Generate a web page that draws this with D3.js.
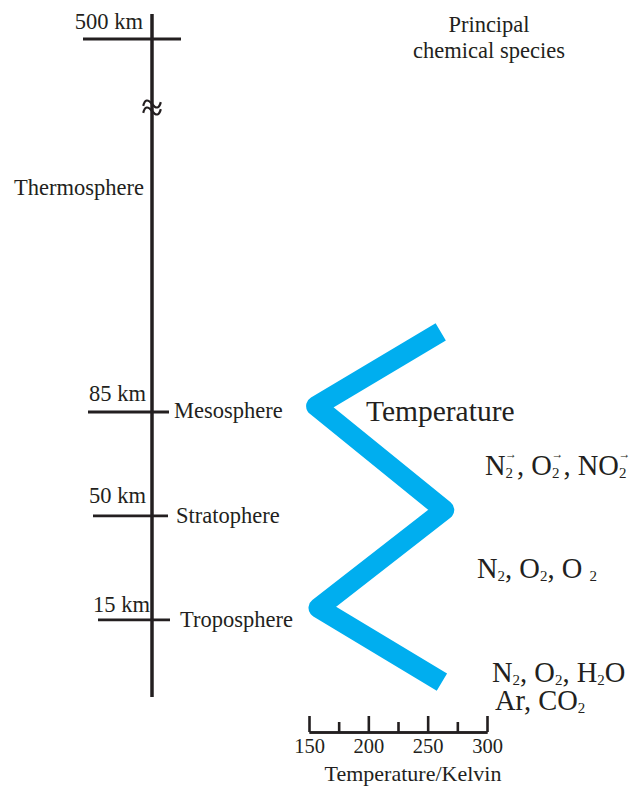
<!DOCTYPE html>
<html>
<head>
<meta charset="utf-8">
<script src="https://cdn.jsdelivr.net/npm/d3@7"></script>
<style>
  body { margin: 0; background: #fff; }
  text { font-family: "Liberation Serif", "Times New Roman", serif; fill: #231f20; }
</style>
</head>
<body>
<div id="chart"></div>
<script>
// altitude axis
const altTicks = [500, 85, 50, 15];
const altTickLabels = ["500 km", "85 km", "50 km", "15 km"];
const layerNames = ["Mesosphere", "Stratophere", "Troposphere"];
const layerAlts = [85, 50, 15];
const topLayerName = "Thermosphere";
const topLayerAlt = 159;

// temperature profile (schematic)
const tempK = [261, 156, 264, 158, 262];
const tempAlt = [112, 87, 52, 19, -6];

const tempMajorTicks = [150, 200, 250, 300];
const tempMinorTicks = [175, 225, 275];

// principal chemical species, digits -> subscript, "•" -> radical mark
const speciesRows = [
  ["N2•", "O2•", "NO2•"],
  ["N2", "O2", "O 2"],
  ["N2", "O2", "H2O"],
  ["Ar", "CO2"]
];

const width = 640, height = 787;
const cyan = "#00AEEF";
const ink = "#231f20";
const labelSize = 22.5;

const svg = d3.select("#chart").append("svg")
  .attr("width", width)
  .attr("height", height);

// broken altitude scale (linear below the break, squeezed above)
const y = d3.scaleLinear().domain([-11, 180, 500]).range([697, 130, 39]);
const x = d3.scaleLinear().domain([150, 300]).range([309, 487]);

const axisX = 152;

// vertical axis
svg.append("line")
  .attr("x1", axisX).attr("x2", axisX)
  .attr("y1", y(500) - 25).attr("y2", y(-11))
  .attr("stroke", ink).attr("stroke-width", 3.5);

// break mark
const breakY = 107;
[-3, 4].forEach(off => {
  svg.append("path")
    .attr("d", `M${axisX - 9},${breakY + off} c3,-6 6,-6 9,0 s6,6 9,0`)
    .attr("transform", `rotate(-12, ${axisX}, ${breakY + off})`)
    .attr("fill", "none")
    .attr("stroke", ink)
    .attr("stroke-width", 2.2);
});

// altitude ticks, left/right lengths per tick
const tickSpan = [[69, 29], [64, 17], [59, 16], [54, 18]];
const labelShift = [[-9, -10], [-6, -11], [-6, -13], [-2, -8]];

altTicks.forEach((a, i) => {
  svg.append("line")
    .attr("x1", axisX - tickSpan[i][0]).attr("x2", axisX + tickSpan[i][1])
    .attr("y1", y(a)).attr("y2", y(a))
    .attr("stroke", ink).attr("stroke-width", 2.8);
  svg.append("text")
    .attr("x", axisX + labelShift[i][0])
    .attr("y", y(a) + labelShift[i][1])
    .attr("text-anchor", "end")
    .attr("font-size", labelSize)
    .text(altTickLabels[i]);
});

const layerDx = [22, 24, 28];
const layerDy = [6, 7, 7];
layerNames.forEach((n, i) => {
  svg.append("text")
    .attr("x", axisX + layerDx[i])
    .attr("y", y(layerAlts[i]) + layerDy[i])
    .attr("font-size", labelSize)
    .text(n);
});

svg.append("text")
  .attr("x", 14)
  .attr("y", y(topLayerAlt) + 3)
  .attr("font-size", labelSize)
  .text(topLayerName);

// temperature zig-zag
const profile = tempK.map((t, i) => ({ t: t, a: tempAlt[i] }));
const line = d3.line().x(d => x(d.t)).y(d => y(d.a));

svg.append("path")
  .datum(profile)
  .attr("d", line)
  .attr("fill", "none")
  .attr("stroke", cyan)
  .attr("stroke-width", 20)
  .attr("stroke-linejoin", "round")
  .attr("stroke-linecap", "butt");

svg.append("text")
  .attr("x", x(198))
  .attr("y", y(85) + 9)
  .attr("font-size", 29.5)
  .text("Temperature");

// header of species column
svg.append("text")
  .attr("x", 489).attr("y", 32)
  .attr("text-anchor", "middle")
  .attr("font-size", labelSize)
  .text("Principal");
svg.append("text")
  .attr("x", 489).attr("y", 58)
  .attr("text-anchor", "middle")
  .attr("font-size", labelSize)
  .text("chemical species");

// species rows
const rowPos = [[485, 475], [477, 578], [492, 682], [495, 710]];

speciesRows.forEach((row, r) => {
  const t = svg.append("text")
    .attr("x", rowPos[r][0])
    .attr("y", rowPos[r][1])
    .attr("font-size", 28.5);
  let shift = 0;
  const put = (str, size, target, dx) => {
    const ts = t.append("tspan")
      .attr("font-size", size)
      .attr("dy", target - shift)
      .text(str);
    if (dx) ts.attr("dx", dx);
    shift = target;
  };
  row.forEach((sp, k) => {
    for (const ch of sp) {
      if (/[0-9]/.test(ch)) put(ch, 15, 3);
      else if (ch === "•") put("\u2192", 12, -17, -8);
      else put(ch, 28.5, 0);
    }
    if (k < row.length - 1) put(", ", 28.5, 0);
  });
});

// temperature axis
const axisY = 732;
const gMajor = svg.append("g")
  .attr("transform", `translate(0,${axisY})`)
  .call(d3.axisBottom(x).tickValues(tempMajorTicks).tickSize(-16).tickSizeOuter(0).tickPadding(6));
const gMinor = svg.append("g")
  .attr("transform", `translate(0,${axisY})`)
  .call(d3.axisBottom(x).tickValues(tempMinorTicks).tickSize(-10).tickSizeOuter(0).tickFormat(""));

[gMajor, gMinor].forEach(g => {
  g.selectAll("path, line").attr("stroke", ink).attr("stroke-width", 2.6);
  g.selectAll("text")
    .attr("font-size", 20.5)
    .attr("font-family", "Liberation Serif, serif")
    .attr("fill", ink);
});

svg.append("text")
  .attr("x", 413)
  .attr("y", 781)
  .attr("text-anchor", "middle")
  .attr("font-size", 22)
  .text("Temperature/Kelvin");
</script>
</body>
</html>
